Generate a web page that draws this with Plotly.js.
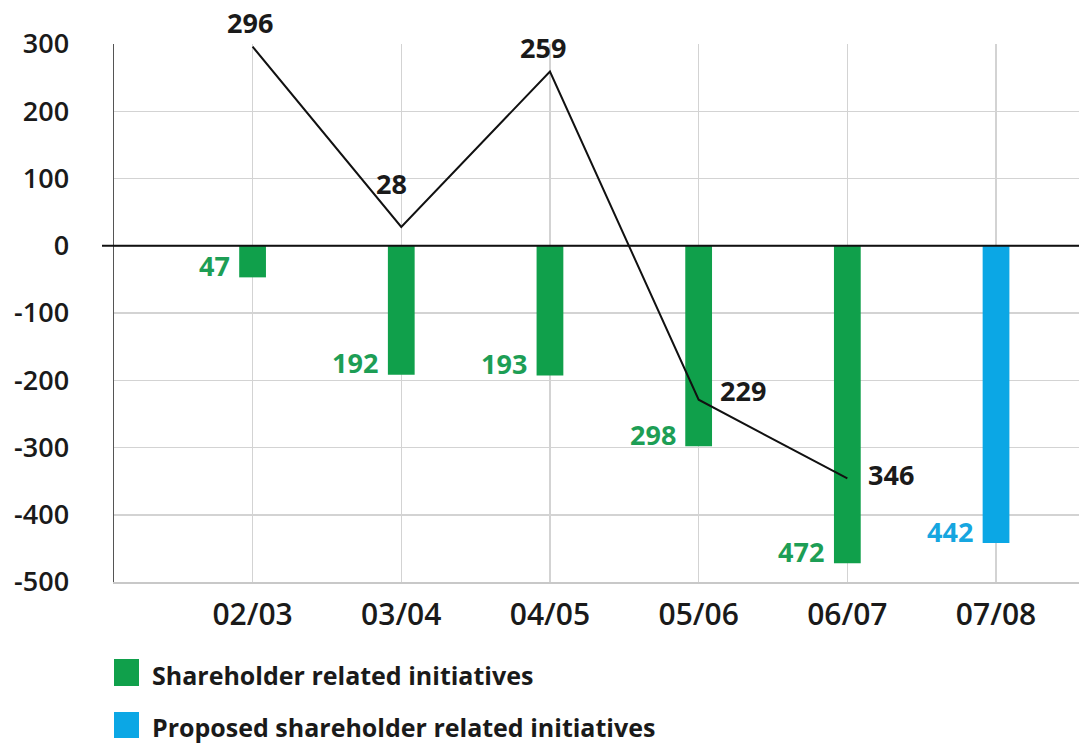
<!DOCTYPE html>
<html>
<head>
<meta charset="utf-8">
<script src="https://cdn.plot.ly/plotly-3.0.1.min.js"></script>
<style>html,body{margin:0;padding:0;background:#fff;}#chart{width:1079px;height:744px;}</style>
</head>
<body>
<div id="chart"></div>
<script>
// ---- data ----
const categories = ["02/03", "03/04", "04/05", "05/06", "06/07", "07/08"];
const shareholderCats = ["02/03", "03/04", "04/05", "05/06", "06/07"];
const shareholderValues = [-47, -192, -193, -298, -472];
const proposedCats = ["07/08"];
const proposedValues = [-442];
const lineCats = ["02/03", "03/04", "04/05", "05/06", "06/07"];
const lineValues = [296, 28, 259, -229, -346];
const yTickVals = [300, 200, 100, 0, -100, -200, -300, -400, -500];
const seriesNames = ["Shareholder related initiatives", "Proposed shareholder related initiatives"];

// ---- style ----
const GREEN = "#10a04b", BLUE = "#0ba7e5";
const GREEN_TXT = "#1d9e55", BLUE_TXT = "#16a6e0";
const FONT = "Open Sans, Noto Sans, sans-serif";
const W = 1079, H = 744, ML = 114, MR = 0, MT = 44, MB = 162;
const PW = W - ML - MR, PH = H - MT - MB;
const px2x = p => (p - ML) / PW;
const px2y = p => (H - MB - p) / PH;
// label offsets for line value labels (pixel shifts)
const lineLabelStyle = [
  {xa: "center", dx: -3, dy: 24},
  {xa: "center", dx: -10, dy: 43},
  {xa: "center", dx: -7, dy: 24},
  {xa: "left", dx: 19, dy: 9},
  {xa: "left", dx: 19, dy: 4}
];

const traces = [
  {type: "bar", name: seriesNames[0], x: shareholderCats, y: shareholderValues,
   marker: {color: GREEN}, width: 0.18, hoverinfo: "x+y"},
  {type: "bar", name: seriesNames[1], x: proposedCats, y: proposedValues,
   marker: {color: BLUE}, width: 0.18, hoverinfo: "x+y"},
  {type: "scatter", mode: "lines", x: lineCats, y: lineValues,
   line: {color: "#111", width: 2}, showlegend: false, hoverinfo: "x+y"}
];

const annotations = [];
shareholderCats.forEach((c, i) => annotations.push({
  x: c, y: shareholderValues[i], xref: "x", yref: "y", text: "<b>" + Math.abs(shareholderValues[i]) + "</b>",
  showarrow: false, xanchor: "right", yanchor: "middle", xshift: -21, yshift: 12,
  font: {family: FONT, size: 27, color: GREEN_TXT}
}));
proposedCats.forEach((c, i) => annotations.push({
  x: c, y: proposedValues[i], xref: "x", yref: "y", text: "<b>" + Math.abs(proposedValues[i]) + "</b>",
  showarrow: false, xanchor: "right", yanchor: "middle", xshift: -21, yshift: 12,
  font: {family: FONT, size: 27, color: BLUE_TXT}
}));
lineCats.forEach((c, i) => annotations.push({
  x: c, y: lineValues[i], xref: "x", yref: "y", text: "<b>" + Math.abs(lineValues[i]) + "</b>",
  showarrow: false, xanchor: lineLabelStyle[i].xa, yanchor: "middle",
  xshift: lineLabelStyle[i].dx, yshift: lineLabelStyle[i].dy,
  font: {family: FONT, size: 27, color: "#1a1a1a"}
}));
// custom legend
const legendColors = [GREEN, BLUE];
const legendBoxes = [[659, 686], [712, 738]];
const shapes = [];
seriesNames.forEach((n, i) => {
  shapes.push({type: "rect", xref: "paper", yref: "paper",
    x0: px2x(114), x1: px2x(139), y0: px2y(legendBoxes[i][0]), y1: px2y(legendBoxes[i][1]),
    fillcolor: legendColors[i], line: {width: 0}});
  annotations.push({xref: "paper", yref: "paper", x: px2x(150), y: px2y((legendBoxes[i][0] + legendBoxes[i][1]) / 2 + 2),
    text: "<b>" + n + "</b>", showarrow: false, xanchor: "left", yanchor: "middle",
    font: {family: FONT, size: 25, color: "#1a1a1a"}});
});
// zero line extending left of the axis
shapes.push({type: "line", xref: "paper", yref: "y", x0: px2x(102), x1: 1, y0: 0, y1: 0,
  line: {color: "#111", width: 2}});

const layout = {
  width: W, height: H,
  margin: {l: ML, r: MR, t: MT, b: MB, pad: 0},
  paper_bgcolor: "#fff", plot_bgcolor: "#fff",
  showlegend: false,
  barmode: "overlay",
  xaxis: {
    type: "category", categoryarray: categories, categoryorder: "array",
    range: [-0.932, 5.558], fixedrange: true,
    showgrid: true, gridcolor: "#d3d3d3", gridwidth: 1.5,
    showline: true, linecolor: "#c8c8c8", linewidth: 1.5,
    ticks: "", ticklabelstandoff: 5,
    tickfont: {family: FONT, size: 30, color: "#1a1a1a", weight: 600}
  },
  yaxis: {
    range: [-500, 300], tickvals: yTickVals, ticktext: yTickVals.map(String),
    showgrid: true, gridcolor: "#d3d3d3", gridwidth: 1.5,
    zeroline: false,
    showline: true, linecolor: "#555", linewidth: 1.5,
    ticks: "", ticklabelstandoff: 38, fixedrange: true,
    tickfont: {family: FONT, size: 27, color: "#1a1a1a", weight: 600}
  },
  shapes: shapes,
  annotations: annotations
};

Plotly.newPlot("chart", traces, layout, {displayModeBar: false, staticPlot: true});
</script>
</body>
</html>
